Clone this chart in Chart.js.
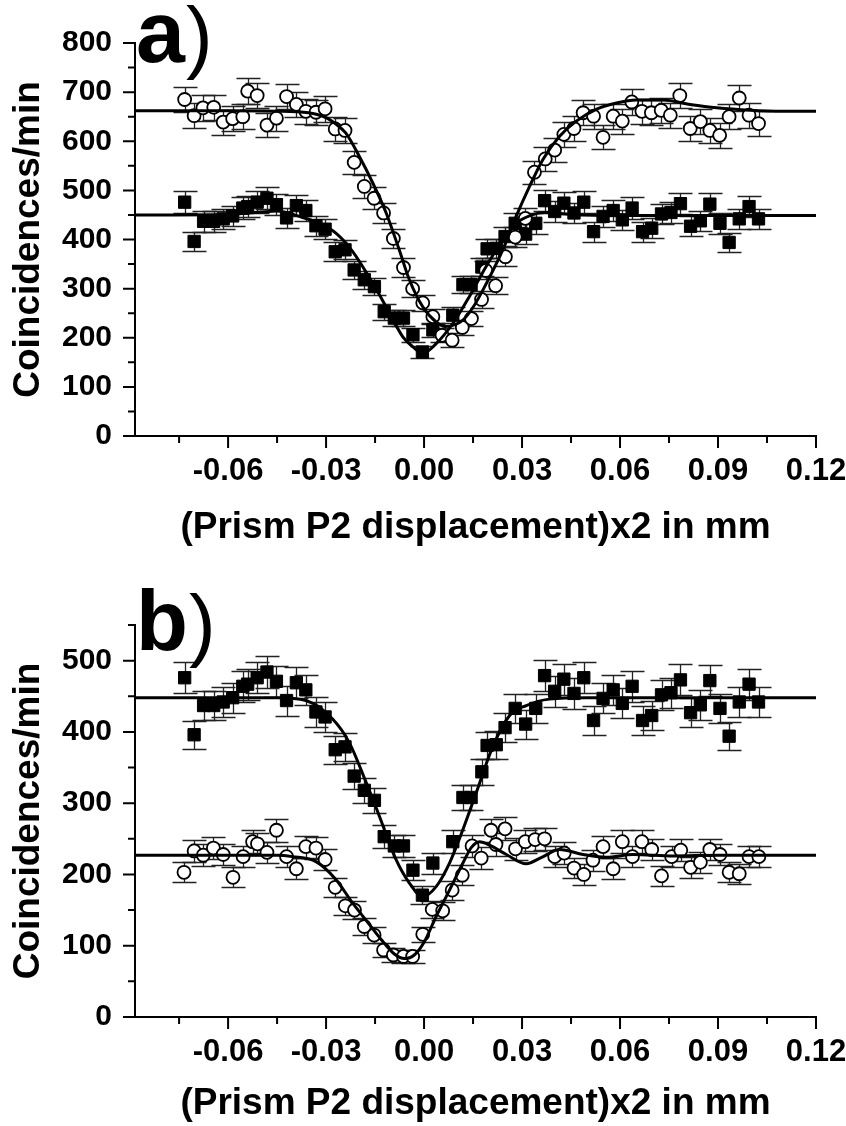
<!DOCTYPE html>
<html>
<head>
<meta charset="utf-8">
<script src="https://cdn.jsdelivr.net/npm/chart.js@4.4.1/dist/chart.umd.min.js"></script>
<style>
  body { margin: 0; background: #fff; }
  canvas { position: absolute; left: 0; }
  #chartA { top: 0; }
  #chartB { top: 560px; }
</style>
</head>
<body>
<canvas id="chartA" width="846" height="560"></canvas>
<canvas id="chartB" width="846" height="566"></canvas>
<script>
const FONT = "'Liberation Sans', Arial, sans-serif";

// filled squares - same measurement shown in both panels
const squareX = [-0.0733, -0.0704, -0.0675, -0.0644, -0.0615, -0.0586, -0.0555, -0.0540, -0.0511, -0.0481,
  -0.0452, -0.0421, -0.0391, -0.0362, -0.0331, -0.0303, -0.0272, -0.0242, -0.0214, -0.0183,
  -0.0152, -0.0122, -0.0091, -0.0063, -0.0034, -0.0005, 0.0027, 0.0088, 0.0119, 0.0144,
  0.0177, 0.0193, 0.0221, 0.0248, 0.0279, 0.0311, 0.0342, 0.0369, 0.0400, 0.0428,
  0.0459, 0.0489, 0.0519, 0.0548, 0.0579, 0.0607, 0.0637, 0.0669, 0.0697, 0.0727,
  0.0756, 0.0785, 0.0816, 0.0846, 0.0875, 0.0906, 0.0934, 0.0965, 0.0995, 0.1024];
const squareY = [476, 396, 437, 437, 442, 448, 464, 467, 476, 484,
  471, 444, 469, 459, 428, 421, 375, 379, 338, 318,
  304, 253, 240, 240, 206, 171, 216, 246, 308, 308,
  344, 381, 382, 406, 433, 411, 433, 479, 457, 474,
  454, 476, 416, 447, 459, 440, 464, 416, 423, 452,
  455, 473, 427, 438, 472, 433, 394, 442, 467, 442];

// open circles, panel a
const circleAX = [-0.0733, -0.0704, -0.0677, -0.0644, -0.0615, -0.0586, -0.0555, -0.0540, -0.0511, -0.0481,
  -0.0452, -0.0421, -0.0391, -0.0362, -0.0331, -0.0303, -0.0272, -0.0242, -0.0214, -0.0183,
  -0.0153, -0.0124, -0.0094, -0.0063, -0.0035, -0.0004, 0.0027, 0.0055, 0.0086, 0.0117,
  0.0145, 0.0176, 0.0189, 0.0219, 0.0249, 0.0279, 0.0310, 0.0338, 0.0371, 0.0400,
  0.0428, 0.0459, 0.0487, 0.0519, 0.0548, 0.0579, 0.0607, 0.0636, 0.0667, 0.0696,
  0.0726, 0.0754, 0.0783, 0.0815, 0.0846, 0.0875, 0.0905, 0.0934, 0.0965, 0.0995, 0.1024];
const circleAY = [685, 652, 668, 669, 639, 646, 650, 702, 693, 633,
  647, 691, 675, 661, 659, 666, 625, 622, 557, 508,
  484, 454, 402, 343, 300, 271, 243, 205, 195, 221,
  239, 278, 337, 306, 365, 405, 443, 537, 564, 582,
  614, 626, 658, 651, 608, 651, 641, 680, 661, 658,
  663, 653, 693, 626, 640, 622, 612, 650, 688, 653, 636];

// open circles, panel b
const circleBX = [-0.0735, -0.0704, -0.0676, -0.0645, -0.0615, -0.0585, -0.0554, -0.0525, -0.0510, -0.0481,
  -0.0452, -0.0421, -0.0391, -0.0362, -0.0331, -0.0303, -0.0272, -0.0241, -0.0213, -0.0183,
  -0.0153, -0.0124, -0.0094, -0.0063, -0.0035, -0.0004, 0.0025, 0.0057, 0.0086, 0.0117,
  0.0147, 0.0175, 0.0205, 0.0220, 0.0248, 0.0280, 0.0310, 0.0340, 0.0369, 0.0400,
  0.0429, 0.0459, 0.0489, 0.0517, 0.0548, 0.0579, 0.0607, 0.0638, 0.0667, 0.0697,
  0.0727, 0.0758, 0.0786, 0.0816, 0.0846, 0.0875, 0.0906, 0.0934, 0.0965, 0.0995, 0.1025];
const circleBY = [203, 233, 227, 237, 228, 196, 225, 246, 243, 231,
  262, 225, 208, 239, 237, 221, 182, 156, 150, 127,
  115, 94, 87, 85, 85, 116, 151, 149, 178, 199,
  240, 223, 262, 242, 264, 236, 246, 249, 250, 225,
  230, 209, 200, 220, 239, 208, 246, 225, 246, 235,
  198, 225, 234, 210, 217, 235, 228, 203, 201, 225, 225];

// fitted curves
const fitSqAX = [-0.0885, -0.06, -0.05, -0.045, -0.0382, -0.0321, -0.027, -0.0219, -0.0157, -0.0116,
  -0.0065, -0.0035, -0.0004, 0.0037, 0.0088, 0.0139, 0.019, 0.0241, 0.0282, 0.033, 0.037, 0.045, 0.06, 0.12];
const fitSqAY = [450, 451, 456, 458, 447, 433, 413, 376, 311, 263,
  202, 182, 168, 188, 229, 284, 345, 399, 433, 450, 455, 451, 449, 449];
const fitCircAX = [-0.0885, -0.06, -0.045, -0.039, -0.033, -0.030, -0.027, -0.024, -0.0198, -0.0157,
  -0.0116, -0.0076, -0.0045, -0.0004, 0.0037, 0.0065, 0.0119, 0.015, 0.018, 0.0241,
  0.0282, 0.0323, 0.0364, 0.0415, 0.0466, 0.0527, 0.0589, 0.065, 0.0732, 0.0814, 0.0896, 0.0998, 0.11, 0.12];
const fitCircAY = [662, 662, 661, 660, 655, 648, 635, 617, 569, 515,
  454, 379, 318, 263, 232, 223, 236, 262, 297, 379,
  447, 508, 563, 610, 641, 665, 678, 684, 684, 675, 668, 663, 661, 661];
const fitSqBX = [-0.0885, -0.045, -0.0362, -0.028, -0.0229, -0.0178, -0.0137, -0.0086, -0.0045, -0.0004,
  0.0037, 0.0078, 0.0119, 0.016, 0.0211, 0.0262, 0.0313, 0.0384, 0.05, 0.12];
const fitSqBY = [448, 448, 444, 418, 385, 330, 282, 221, 188, 169,
  183, 216, 263, 315, 380, 423, 437, 446, 448, 448];
const fitCircBX = [-0.0885, -0.045, -0.0403, -0.0331, -0.027, -0.0219, -0.0178, -0.013, -0.009, -0.006,
  -0.003, 0.0, 0.0037, 0.0078, 0.0119, 0.0145, 0.017, 0.0205, 0.0252, 0.0313,
  0.036, 0.0415, 0.0487, 0.0558, 0.064, 0.0763, 0.09, 0.12];
const fitCircBY = [227, 227, 225, 218, 193, 160, 136, 108, 88, 82,
  87, 105, 141, 178, 216, 238, 246, 240, 228, 215,
  224, 235, 228, 224, 228, 226, 227, 227];

const xTickLabels = ['-0.06', '-0.03', '0.00', '0.03', '0.06', '0.09', '0.12'];
const yTickLabelsA = ['0', '100', '200', '300', '400', '500', '600', '700', '800'];
const yTickLabelsB = ['0', '100', '200', '300', '400', '500'];

function pts(xs, ys) {
  return xs.map((x, i) => ({ x: x, y: ys[i] }));
}

function fmtX(v) {
  if (Math.abs(v) < 1e-9) return '0.00';
  return v.toFixed(2);
}

// error bars: Poisson counting error, sqrt(counts)
const errorBars = {
  id: 'errorBars',
  beforeDatasetsDraw(chart) {
    const ctx = chart.ctx, xs = chart.scales.x, ys = chart.scales.y;
    ctx.save();
    ctx.strokeStyle = '#222';
    ctx.lineWidth = 1.3;
    chart.data.datasets.forEach(ds => {
      if (!ds.poisson) return;
      ds.data.forEach(p => {
        const e = Math.sqrt(p.y);
        const px = Math.round(xs.getPixelForValue(p.x)) + 0.5;
        const top = Math.round(ys.getPixelForValue(p.y + e)) + 0.5;
        const bot = Math.round(ys.getPixelForValue(p.y - e)) + 0.5;
        ctx.beginPath();
        ctx.moveTo(px, top); ctx.lineTo(px, bot);
        ctx.moveTo(px - 12, top); ctx.lineTo(px + 12, top);
        ctx.moveTo(px - 12, bot); ctx.lineTo(px + 12, bot);
        ctx.stroke();
      });
    });
    ctx.restore();
  }
};

// major / minor tick marks pointing outward
const tickMarks = {
  id: 'tickMarks',
  afterDraw(chart) {
    const ctx = chart.ctx, a = chart.chartArea, xs = chart.scales.x, ys = chart.scales.y;
    ctx.save();
    ctx.strokeStyle = '#000';
    ctx.lineWidth = 2;
    ctx.beginPath();
    xs.ticks.forEach(t => {
      const p = xs.getPixelForValue(t.value);
      const len = xTickLabels.includes(fmtX(t.value)) ? 12 : 7;
      ctx.moveTo(p, a.bottom); ctx.lineTo(p, a.bottom + len);
    });
    const labels = chart.options.plugins.tickMarks.yLabels;
    ys.ticks.forEach(t => {
      const p = ys.getPixelForValue(t.value);
      const len = labels.includes(String(t.value)) ? 12 : 7;
      ctx.moveTo(a.left - len, p); ctx.lineTo(a.left, p);
    });
    ctx.stroke();
    ctx.restore();
  }
};

// "a)" / "b)" panel letters
const panelLabel = {
  id: 'panelLabel',
  afterDraw(chart, args, opts) {
    const ctx = chart.ctx;
    ctx.save();
    ctx.fillStyle = '#000';
    ctx.textBaseline = 'alphabetic';
    ctx.font = 'bold ' + opts.size + 'px ' + FONT;
    ctx.fillText(opts.text, opts.x, opts.y);
    const w = ctx.measureText(opts.text).width;
    ctx.font = '80px ' + FONT;
    ctx.fillText(')', opts.x + w + 1, opts.y + 1);
    ctx.restore();
  }
};

function makeChart(id, cfg) {
  const yLabels = cfg.yLabels;
  return new Chart(document.getElementById(id), {
    data: {
      datasets: [
        { type: 'line', data: pts(cfg.fitSqX, cfg.fitSqY), borderColor: '#000', borderWidth: 3,
          pointRadius: 0, fill: false, cubicInterpolationMode: 'monotone', order: 0 },
        { type: 'line', data: pts(cfg.fitCircX, cfg.fitCircY), borderColor: '#000', borderWidth: 3,
          pointRadius: 0, fill: false, cubicInterpolationMode: 'monotone', order: 0 },
        { type: 'scatter', data: pts(cfg.circX, cfg.circY), poisson: true, pointStyle: 'circle',
          pointRadius: 6.5, backgroundColor: '#fff', borderColor: '#000', borderWidth: 1.8, order: 1 },
        { type: 'scatter', data: pts(squareX, squareY), poisson: true, pointStyle: 'rect',
          pointRadius: 8.7, backgroundColor: '#000', borderColor: '#000', borderWidth: 1, order: 2 }
      ]
    },
    options: {
      responsive: false,
      animation: false,
      devicePixelRatio: 1,
      layout: { padding: { top: cfg.top, right: 30, left: 0, bottom: 0 } },
      plugins: {
        legend: { display: false },
        tooltip: { enabled: false },
        tickMarks: { yLabels: yLabels },
        panelLabel: cfg.label
      },
      scales: {
        x: {
          type: 'linear',
          min: -0.0885,
          max: 0.12,
          grid: { display: false },
          border: { display: true, color: '#000', width: 2 },
          ticks: {
            stepSize: 0.015,
            includeBounds: false,
            autoSkip: false,
            maxRotation: 0,
            padding: 12,
            color: '#000',
            font: { family: FONT, size: 31, weight: 'bold', lineHeight: 1 },
            callback: v => xTickLabels.includes(fmtX(v)) ? fmtX(v) : ''
          },
          title: {
            display: true,
            text: '(Prism P2 displacement)x2 in mm',
            color: '#000',
            font: { family: FONT, size: 37, weight: 'bold', lineHeight: 1 },
            padding: { top: 0, bottom: cfg.xTitlePad }
          },
          afterFit: s => { s.height = cfg.xHeight; s.paddingLeft = 0; s.paddingRight = 0; }
        },
        y: {
          type: 'linear',
          min: 0,
          max: cfg.yMax,
          grid: { display: false },
          border: { display: true, color: '#000', width: 2 },
          ticks: {
            stepSize: 50,
            autoSkip: false,
            padding: 15,
            color: '#000',
            font: { family: FONT, size: 30, weight: 'bold', lineHeight: 1 },
            callback: v => yLabels.includes(String(v)) ? String(v) : ''
          },
          title: {
            display: true,
            text: 'Coincidences/min',
            color: '#000',
            font: { family: FONT, size: 37, weight: 'bold', lineHeight: 1 },
            padding: { top: 10, bottom: 0 }
          },
          afterFit: s => { s.width = 135; s.paddingTop = 0; s.paddingBottom = 0; }
        }
      }
    },
    plugins: [errorBars, tickMarks, panelLabel]
  });
}

makeChart('chartA', {
  top: 43, xHeight: 124, xTitlePad: 14, yMax: 800, yLabels: yTickLabelsA,
  circX: circleAX, circY: circleAY,
  fitSqX: fitSqAX, fitSqY: fitSqAY, fitCircX: fitCircAX, fitCircY: fitCircAY,
  label: { text: 'a', x: 136, y: 62, size: 88 }
});

makeChart('chartB', {
  top: 65, xHeight: 109, xTitlePad: 4, yMax: 550, yLabels: yTickLabelsB,
  circX: circleBX, circY: circleBY,
  fitSqX: fitSqBX, fitSqY: fitSqBY, fitCircX: fitCircBX, fitCircY: fitCircBY,
  label: { text: 'b', x: 136, y: 90, size: 85 }
});
</script>
</body>
</html>
